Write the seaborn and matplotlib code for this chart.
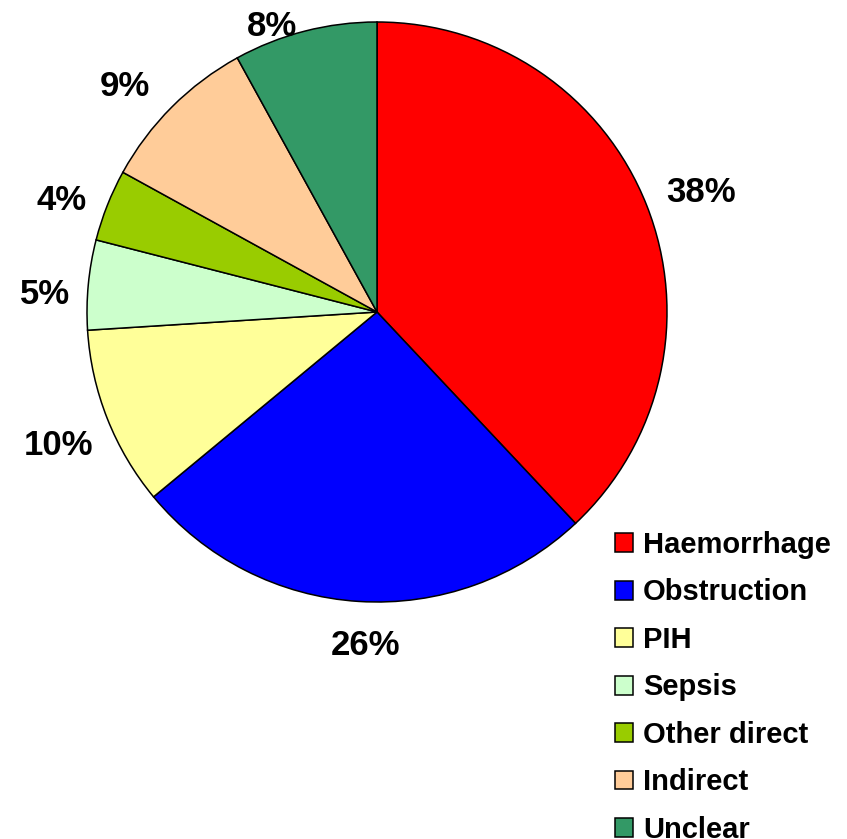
import matplotlib
matplotlib.use("Agg")
import matplotlib.pyplot as plt
import numpy as np
import seaborn as sns

# causes of maternal death, share in percent
causes = ["Haemorrhage", "Obstruction", "PIH", "Sepsis", "Other direct", "Indirect", "Unclear"]
shares = [38, 26, 10, 5, 4, 9, 8]
colours = ["#FF0000", "#0000FF", "#FFFF99", "#CCFFCC", "#99CC00", "#FFCC99", "#339966"]

# where each percent label sits: distance (radii) and angle nudge (deg)
label_dist = [1.19, 1.15, 1.19, 1.145, 1.155, 1.165, 1.05]
label_nudge = [-1.3, 1.7, 1.2, 2.3, 2.2, 3.2, 5.8]

sns.set_style("white")
plt.rcParams['font.family'] = ['Liberation Sans', 'DejaVu Sans']

fig = plt.figure(figsize=(8.47, 8.39), dpi=100)
ax = fig.add_axes([87 / 847, 1 - 602 / 839, 580 / 847, 580 / 839])

wedges, texts, autotexts = ax.pie(
    shares, colors=sns.color_palette(colours), startangle=90, counterclock=False,
    autopct="%1.0f%%", pctdistance=1.2, radius=1,
    wedgeprops=dict(edgecolor="black", linewidth=1.1),
    textprops=dict(fontsize=25, fontweight="bold", color="black"))

for w, t, d, n in zip(wedges, autotexts, label_dist, label_nudge):
    mid = np.deg2rad((w.theta1 + w.theta2) / 2 + n)
    t.set_position((d * np.cos(mid), d * np.sin(mid)))
    t.set_clip_on(False)

ax.set_xlim(-1, 1)
ax.set_ylim(-1, 1)
ax.set_aspect("equal")
ax.axis("off")

leg = fig.legend(wedges, causes, loc="upper left", bbox_to_anchor=(615 / 847, 1 - 531 / 839),
                 frameon=False, borderpad=0, borderaxespad=0,
                 prop=dict(size=21, weight="bold"),
                 handlelength=0.62, handleheight=0.62, handletextpad=0.34, labelspacing=0.667)
for txt in leg.get_texts():
    txt.set_color("black")

fig.savefig("out.png", dpi=100, facecolor="white")
